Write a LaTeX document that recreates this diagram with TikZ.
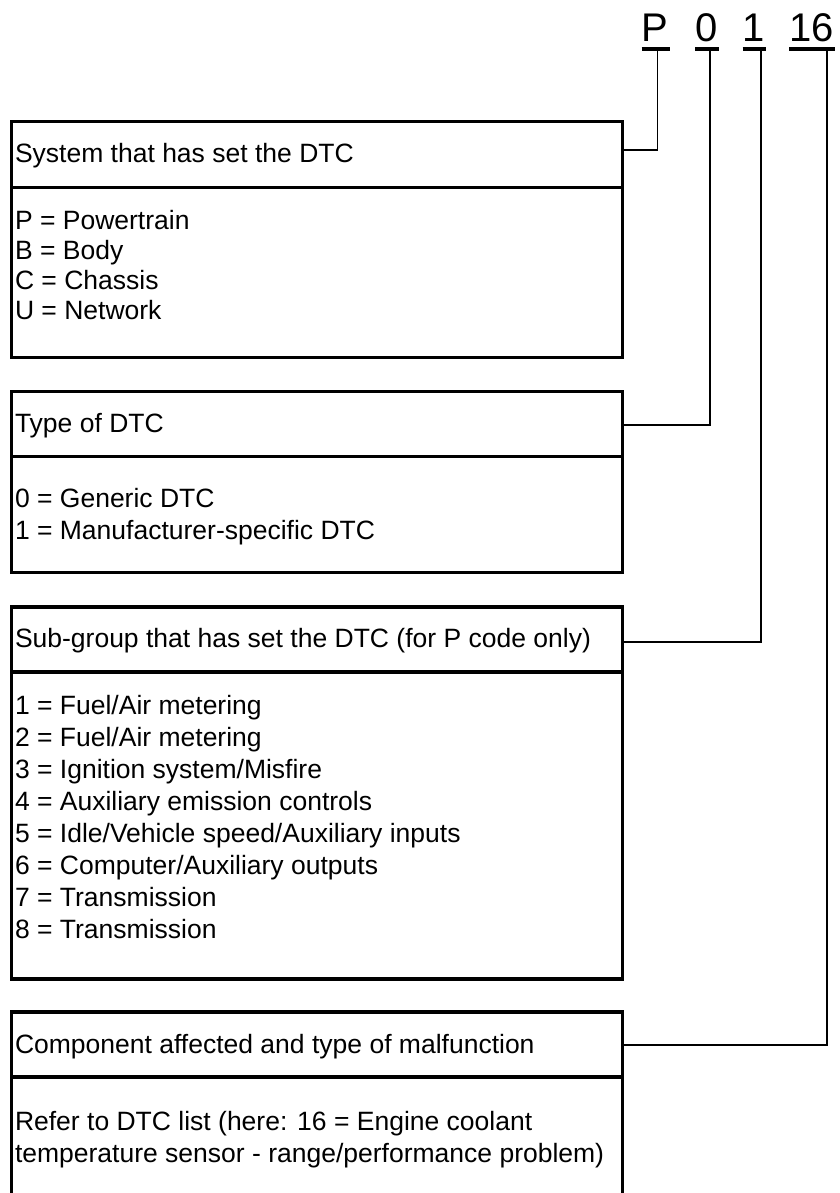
\documentclass[tikz,border=0pt]{standalone}
\usepackage{fontspec}
\setmainfont{Liberation Sans}
\begin{document}
\begin{tikzpicture}[x=1pt,y=-1pt,
  boxline/.style={line width=3.2pt,line join=miter},
  frame/.style={draw,boxline,rectangle,inner sep=0pt,outer sep=0pt,anchor=north west,minimum width=611pt},
  openframe/.style={rectangle,inner sep=0pt,outer sep=0pt,anchor=north west,minimum width=611pt},
  conn/.style={line width=1.6pt},
  uline/.style={line width=4pt},
  txt/.style={inner sep=0pt,outer sep=0pt,anchor=base west,font=\fontsize{26.5}{32}\selectfont},
  big/.style={inner sep=0pt,outer sep=0pt,anchor=base west,font=\fontsize{40}{48}\selectfont}]
\useasboundingbox[fill=white] (0,0) rectangle (839,1193);

% code characters
\node[big] (cP)  at (641.7,41.7) {P};
\node[big] (c0)  at (695,41.7) {0};
\node[big] (c1)  at (742.7,41.7) {1};
\node[big] (c16) at (789.3,41.7) {16};
\coordinate (uy) at (0,49.3);
\draw[uline] (cP.west |- uy)  -- ([xshift=2pt]cP.east |- uy);
\draw[uline] (c0.west |- uy)  -- ([xshift=2pt]c0.east |- uy);
\draw[uline] (c1.west |- uy)  -- ([xshift=1.2pt]c1.east |- uy);
\draw[uline] (c16.west |- uy) -- ([xshift=1.5pt]c16.east |- uy);

% boxes
\node[frame,minimum height=66pt]    (h1) at (11.7,121.5) {};
\node[frame,minimum height=169.8pt] (b1) at (11.7,187.5) {};
\node[frame,minimum height=65pt]    (h2) at (11.7,391.7) {};
\node[frame,minimum height=116pt]   (b2) at (11.7,456.7) {};
\node[frame,minimum height=65pt]    (h3) at (11.7,607) {};
\node[frame,minimum height=307pt]   (b3) at (11.7,672) {};
\node[frame,minimum height=65pt]    (h4) at (11.7,1012) {};
\node[openframe,minimum height=125pt] (b4) at (11.7,1077) {};
\draw[boxline] (b4.south west) -- (b4.north west) -- (b4.north east) -- (b4.south east);

% connectors
\coordinate (kP)  at (657.3,49.3);  \coordinate (jP)  at (657.3,150);
\coordinate (k0)  at (710,49.3);    \coordinate (j0)  at (710,425);
\coordinate (k1)  at (760.7,49.3);  \coordinate (j1)  at (760.7,641.7);
\coordinate (k16) at (826.7,49.3);  \coordinate (j16) at (826.7,1045);
\draw[conn] (h1.east |- jP)  -- (jP)  -- (kP);
\draw[conn] (h2.east |- j0)  -- (j0)  -- (k0);
\draw[conn] (h3.east |- j1)  -- (j1)  -- (k1);
\draw[conn] (h4.east |- j16) -- (j16) -- (k16);

% texts box 1
\node[txt] (h1t) at (15,163) {System that has set the DTC};
\node[txt] (b1a) at (15,229.5) {P = Powertrain};
\node[txt] (b1b) at (15,259.5) {B = Body};
\node[txt] (b1c) at (15,289.5) {C = Chassis};
\node[txt] (b1d) at (15,319.5) {U = Network};

% texts box 2
\node[txt] (h2t) at (15,432.5) {Type of DTC};
\node[txt] (b2a) at (15,507.5) {0 = Generic DTC};
\node[txt] (b2b) at (15,539.5) {1 = Manufacturer-specific DTC};

% texts box 3
\node[txt] (h3t) at (15,647) {Sub-group that has set the DTC (for P code only)};
\node[txt] (b3a) at (15,714) {1 = Fuel/Air metering};
\node[txt] (b3b) at (15,746) {2 = Fuel/Air metering};
\node[txt] (b3c) at (15,778) {3 = Ignition system/Misfire};
\node[txt] (b3d) at (15,810) {4 = Auxiliary emission controls};
\node[txt] (b3e) at (15,842) {5 = Idle/Vehicle speed/Auxiliary inputs};
\node[txt] (b3f) at (15,874) {6 = Computer/Auxiliary outputs};
\node[txt] (b3g) at (15,906) {7 = Transmission};
\node[txt] (b3h) at (15,938) {8 = Transmission};

% texts box 4
\node[txt] (h4t) at (15,1053) {Component affected and type of malfunction};
\node[txt] (b4a) at (15,1130) {Refer to DTC list (here: 16 = Engine coolant};
\node[txt] (b4b) at (15,1162) {temperature sensor - range/performance problem)};
\end{tikzpicture}
\end{document}
